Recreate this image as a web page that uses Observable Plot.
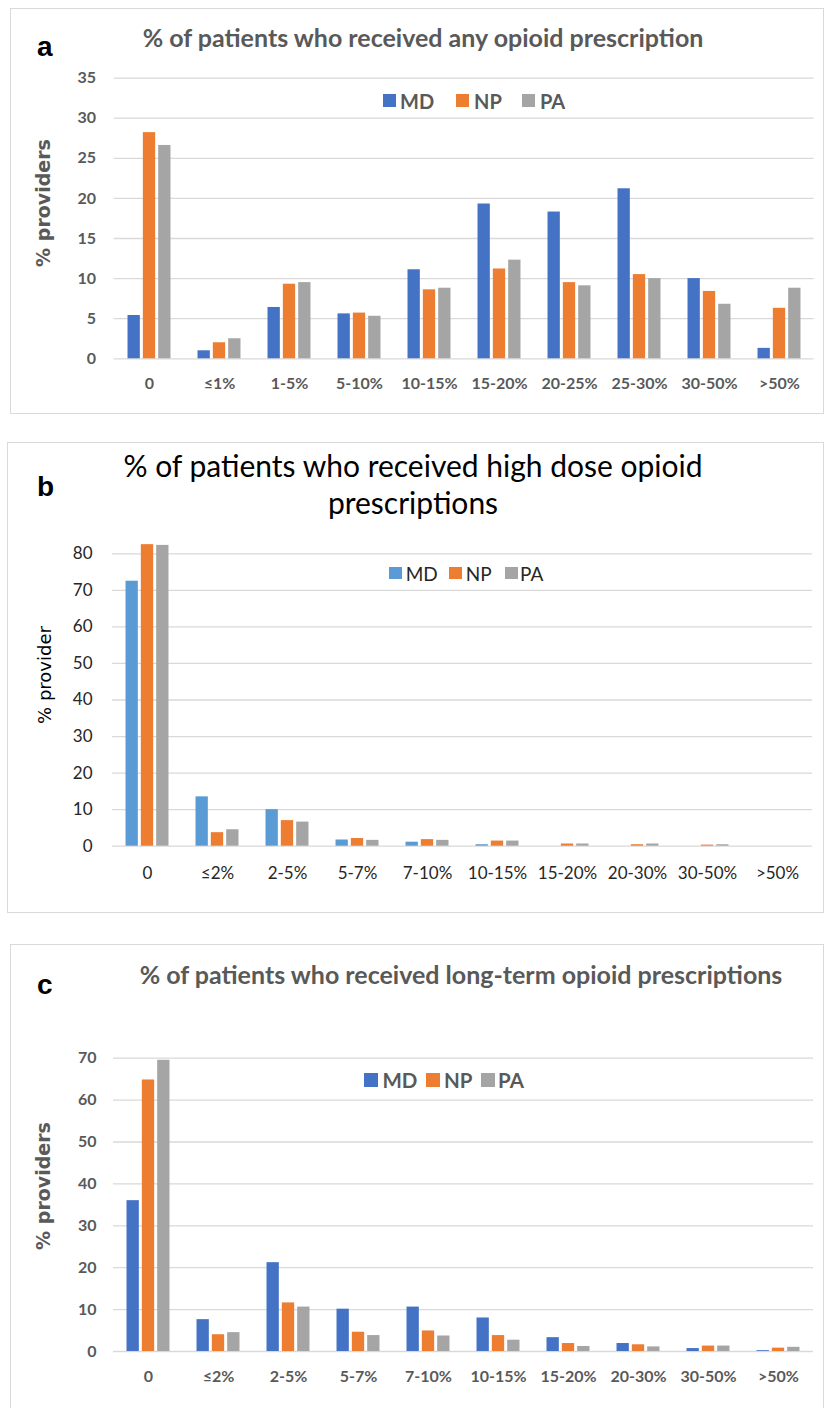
<!DOCTYPE html>
<html><head><meta charset="utf-8">
<script src="https://cdn.jsdelivr.net/npm/d3@7"></script>
<script src="https://cdn.jsdelivr.net/npm/@observablehq/plot@0.6"></script>
<style>
body{margin:0;background:#fff;}
#page{position:relative;width:826px;height:1408px;overflow:hidden;background:#fff;}
.box{position:absolute;border:1px solid #d9d9d9;box-sizing:border-box;}
.t{position:absolute;white-space:nowrap;line-height:1;}
.plot{position:absolute;left:0;}
.sw{position:absolute;}
</style></head><body><div id="page"></div>
<script>
// ---------- data ----------
const series = ["MD", "NP", "PA"];

const catsA = ["0", "≤1%", "1-5%", "5-10%", "10-15%", "15-20%", "20-25%", "25-30%", "30-50%", ">50%"];
const mdA = [5.4, 1.0, 6.4, 5.6, 11.1, 19.3, 18.3, 21.2, 10.0, 1.3];
const npA = [28.2, 2.0, 9.3, 5.7, 8.6, 11.2, 9.5, 10.5, 8.4, 6.3];
const paA = [26.6, 2.5, 9.5, 5.3, 8.8, 12.3, 9.1, 10.0, 6.8, 8.8];
const ticksA = [0, 5, 10, 15, 20, 25, 30, 35];

const catsB = ["0", "≤2%", "2-5%", "5-7%", "7-10%", "10-15%", "15-20%", "20-30%", "30-50%", ">50%"];
const mdB = [72.5, 13.5, 10.0, 1.7, 1.1, 0.4, 0, 0, 0, 0];
const npB = [82.5, 3.7, 7.0, 2.1, 1.8, 1.4, 0.6, 0.4, 0.3, 0];
const paB = [82.3, 4.5, 6.6, 1.6, 1.6, 1.4, 0.6, 0.6, 0.4, 0];
const ticksB = [0, 10, 20, 30, 40, 50, 60, 70, 80];

const catsC = ["0", "≤2%", "2-5%", "5-7%", "7-10%", "10-15%", "15-20%", "20-30%", "30-50%", ">50%"];
const mdC = [36.0, 7.6, 21.2, 10.1, 10.6, 8.0, 3.3, 1.9, 0.7, 0.2];
const npC = [64.8, 4.0, 11.6, 4.6, 4.9, 3.8, 1.9, 1.6, 1.3, 0.8];
const paC = [69.5, 4.5, 10.6, 3.8, 3.7, 2.7, 1.2, 1.1, 1.3, 1.0];
const ticksC = [0, 10, 20, 30, 40, 50, 60, 70];

const titleA = "% of patients who received any opioid prescription";
const titleB1 = "% of patients who received high dose opioid";
const titleB2 = "prescriptions";
const titleC = "% of patients who received long-term opioid prescriptions";
const yLabelA = "% providers", yLabelB = "% provider", yLabelC = "% providers";

// ---------- helpers ----------
const page = document.getElementById("page");
const W = 826;
const NP_COLOR = "#ED7D31", PA_COLOR = "#A5A5A5";

function box(left, top, width, height) {
  const d = document.createElement("div");
  d.className = "box";
  Object.assign(d.style, {left: left + "px", top: top + "px", width: width + "px", height: height + "px"});
  page.appendChild(d);
}
const K = {Lato: 0.887, "Liberation Sans": 0.8465, "DejaVu Sans": 0.846};
function text(str, {x, baseline, size, family = "Lato", weight = "normal", color = "#000", anchor = "start"}) {
  const d = document.createElement("div");
  d.className = "t";
  d.textContent = str;
  Object.assign(d.style, {
    left: x + "px", top: (baseline - K[family] * size) + "px",
    fontSize: size + "px", fontFamily: `"${family}"`, fontWeight: weight, color
  });
  if (anchor === "middle") d.style.transform = "translateX(-50%)";
  page.appendChild(d);
}
function vtext(str, {cx, cy, size, family = "DejaVu Sans", weight = "normal", color = "#000"}) {
  const d = document.createElement("div");
  d.className = "t";
  d.textContent = str;
  Object.assign(d.style, {
    left: cx + "px", top: cy + "px", fontSize: size + "px", fontFamily: `"${family}"`,
    fontWeight: weight, color, transform: "translate(-50%,-50%) rotate(-90deg)"
  });
  page.appendChild(d);
}
function legend(items, {cy, sw, size, weight, color}) {
  for (const it of items) {
    const s = document.createElement("div");
    s.className = "sw";
    Object.assign(s.style, {left: it.sx + "px", top: (cy - sw / 2) + "px", width: sw + "px", height: sw + "px", background: it.color});
    page.appendChild(s);
    const d = document.createElement("div");
    d.className = "t";
    d.textContent = it.label;
    Object.assign(d.style, {left: it.tx + "px", top: (cy - size * 0.5) + "px", fontSize: size + "px", fontFamily: "Lato", fontWeight: weight, color, lineHeight: size + "px"});
    page.appendChild(d);
  }
}

function chart({cats, md, np, pa, mdColor, ticks, top, height, marginLeft, marginRight, marginTop, marginBottom, style, padX, padY}) {
  const vals = {MD: md, NP: np, PA: pa};
  const data = series.map(s => cats.map((c, i) => ({cat: c, s, v: vals[s][i]})));
  const bw = (W - marginLeft - marginRight) / cats.length;
  const half = bw * 0.307, bar = bw * 0.176;
  const insets = [
    [bw / 2 - half, bw / 2 + half - bar],
    [bw / 2 - bar / 2, bw / 2 - bar / 2],
    [bw / 2 + half - bar, bw / 2 - half]
  ];
  const svg = Plot.plot({
    width: W, height, marginLeft, marginRight, marginTop, marginBottom,
    style: Object.assign({background: "transparent", overflow: "visible"}, style),
    x: {type: "band", domain: cats, padding: 0, label: null},
    y: {domain: [0, ticks[ticks.length - 1]], label: null},
    color: {domain: series, range: [mdColor, NP_COLOR, PA_COLOR]},
    marks: [
      Plot.gridY({ticks, stroke: "#d9d9d9", strokeOpacity: 1, strokeWidth: 1.3}),
      ...series.map((s, k) => Plot.barY(data[k], {x: "cat", y: "v", fill: "s", insetLeft: insets[k][0], insetRight: insets[k][1]})),
      Plot.axisX({tickSize: 0, tickPadding: padX, label: null}),
      Plot.axisY({ticks, tickSize: 0, tickPadding: padY, label: null})
    ]
  });
  svg.classList.add("plot");
  svg.style.position = "absolute";
  svg.style.left = "0px";
  svg.style.top = top + "px";
  page.appendChild(svg);
}

// ---------- panel a ----------
box(10, 8, 814, 406);
chart({cats: catsA, md: mdA, np: npA, pa: paA, mdColor: "#4472C4", ticks: ticksA,
  top: 60, height: 350, marginLeft: 113.6, marginRight: 12.4, marginTop: 17.6, marginBottom: 51.7,
  style: {fontFamily: "Lato", fontSize: "16px", fontWeight: "bold", color: "#595959"}, padX: 19, padY: 18});
text("a", {x: 37, baseline: 57, size: 28, family: "Liberation Sans", weight: "bold"});
text(titleA, {x: 423, baseline: 46.7, size: 25, weight: "bold", color: "#595959", anchor: "middle"});
vtext(yLabelA, {cx: 43, cy: 203, size: 19, weight: "bold", color: "#595959"});
legend([
  {label: "MD", color: "#4472C4", sx: 382.7, tx: 400},
  {label: "NP", color: NP_COLOR, sx: 456, tx: 474},
  {label: "PA", color: PA_COLOR, sx: 522.3, tx: 540}
], {cy: 100.8, sw: 13, size: 20, weight: "bold", color: "#595959"});

// ---------- panel b ----------
box(7, 442, 817, 471);
chart({cats: catsB, md: mdB, np: npB, pa: paB, mdColor: "#5B9BD5", ticks: ticksB,
  top: 530, height: 375, marginLeft: 112, marginRight: 14, marginTop: 23.3, marginBottom: 59.3,
  style: {fontFamily: "Lato", fontSize: "17px", fontWeight: "normal", color: "#262626"}, padX: 21, padY: 20});
text("b", {x: 37, baseline: 496.7, size: 28, family: "Liberation Sans", weight: "bold"});
text(titleB1, {x: 413, baseline: 476.7, size: 30, color: "#000", anchor: "middle"});
text(titleB2, {x: 413, baseline: 513.3, size: 30, color: "#000", anchor: "middle"});
vtext(yLabelB, {cx: 45, cy: 675, size: 18, weight: "normal", color: "#000"});
legend([
  {label: "MD", color: "#5B9BD5", sx: 389, tx: 405.7},
  {label: "NP", color: NP_COLOR, sx: 449.3, tx: 465.7},
  {label: "PA", color: PA_COLOR, sx: 505, tx: 520}
], {cy: 573, sw: 12.5, size: 19, weight: "normal", color: "#262626"});

// ---------- panel c ----------
box(10, 944, 814, 500);
chart({cats: catsC, md: mdC, np: npC, pa: paC, mdColor: "#4472C4", ticks: ticksC,
  top: 1040, height: 360, marginLeft: 113, marginRight: 13, marginTop: 17.7, marginBottom: 49,
  style: {fontFamily: "Lato", fontSize: "16px", fontWeight: "bold", color: "#595959"}, padX: 19, padY: 17});
text("c", {x: 37, baseline: 995, size: 28, family: "Liberation Sans", weight: "bold"});
text(titleC, {x: 461, baseline: 984, size: 25, weight: "bold", color: "#595959", anchor: "middle"});
vtext(yLabelC, {cx: 43, cy: 1186, size: 19, weight: "bold", color: "#595959"});
legend([
  {label: "MD", color: "#4472C4", sx: 363.5, tx: 382.5},
  {label: "NP", color: NP_COLOR, sx: 425.7, tx: 444},
  {label: "PA", color: PA_COLOR, sx: 481, tx: 498}
], {cy: 1080, sw: 14, size: 20.5, weight: "bold", color: "#595959"});
</script></body></html>
